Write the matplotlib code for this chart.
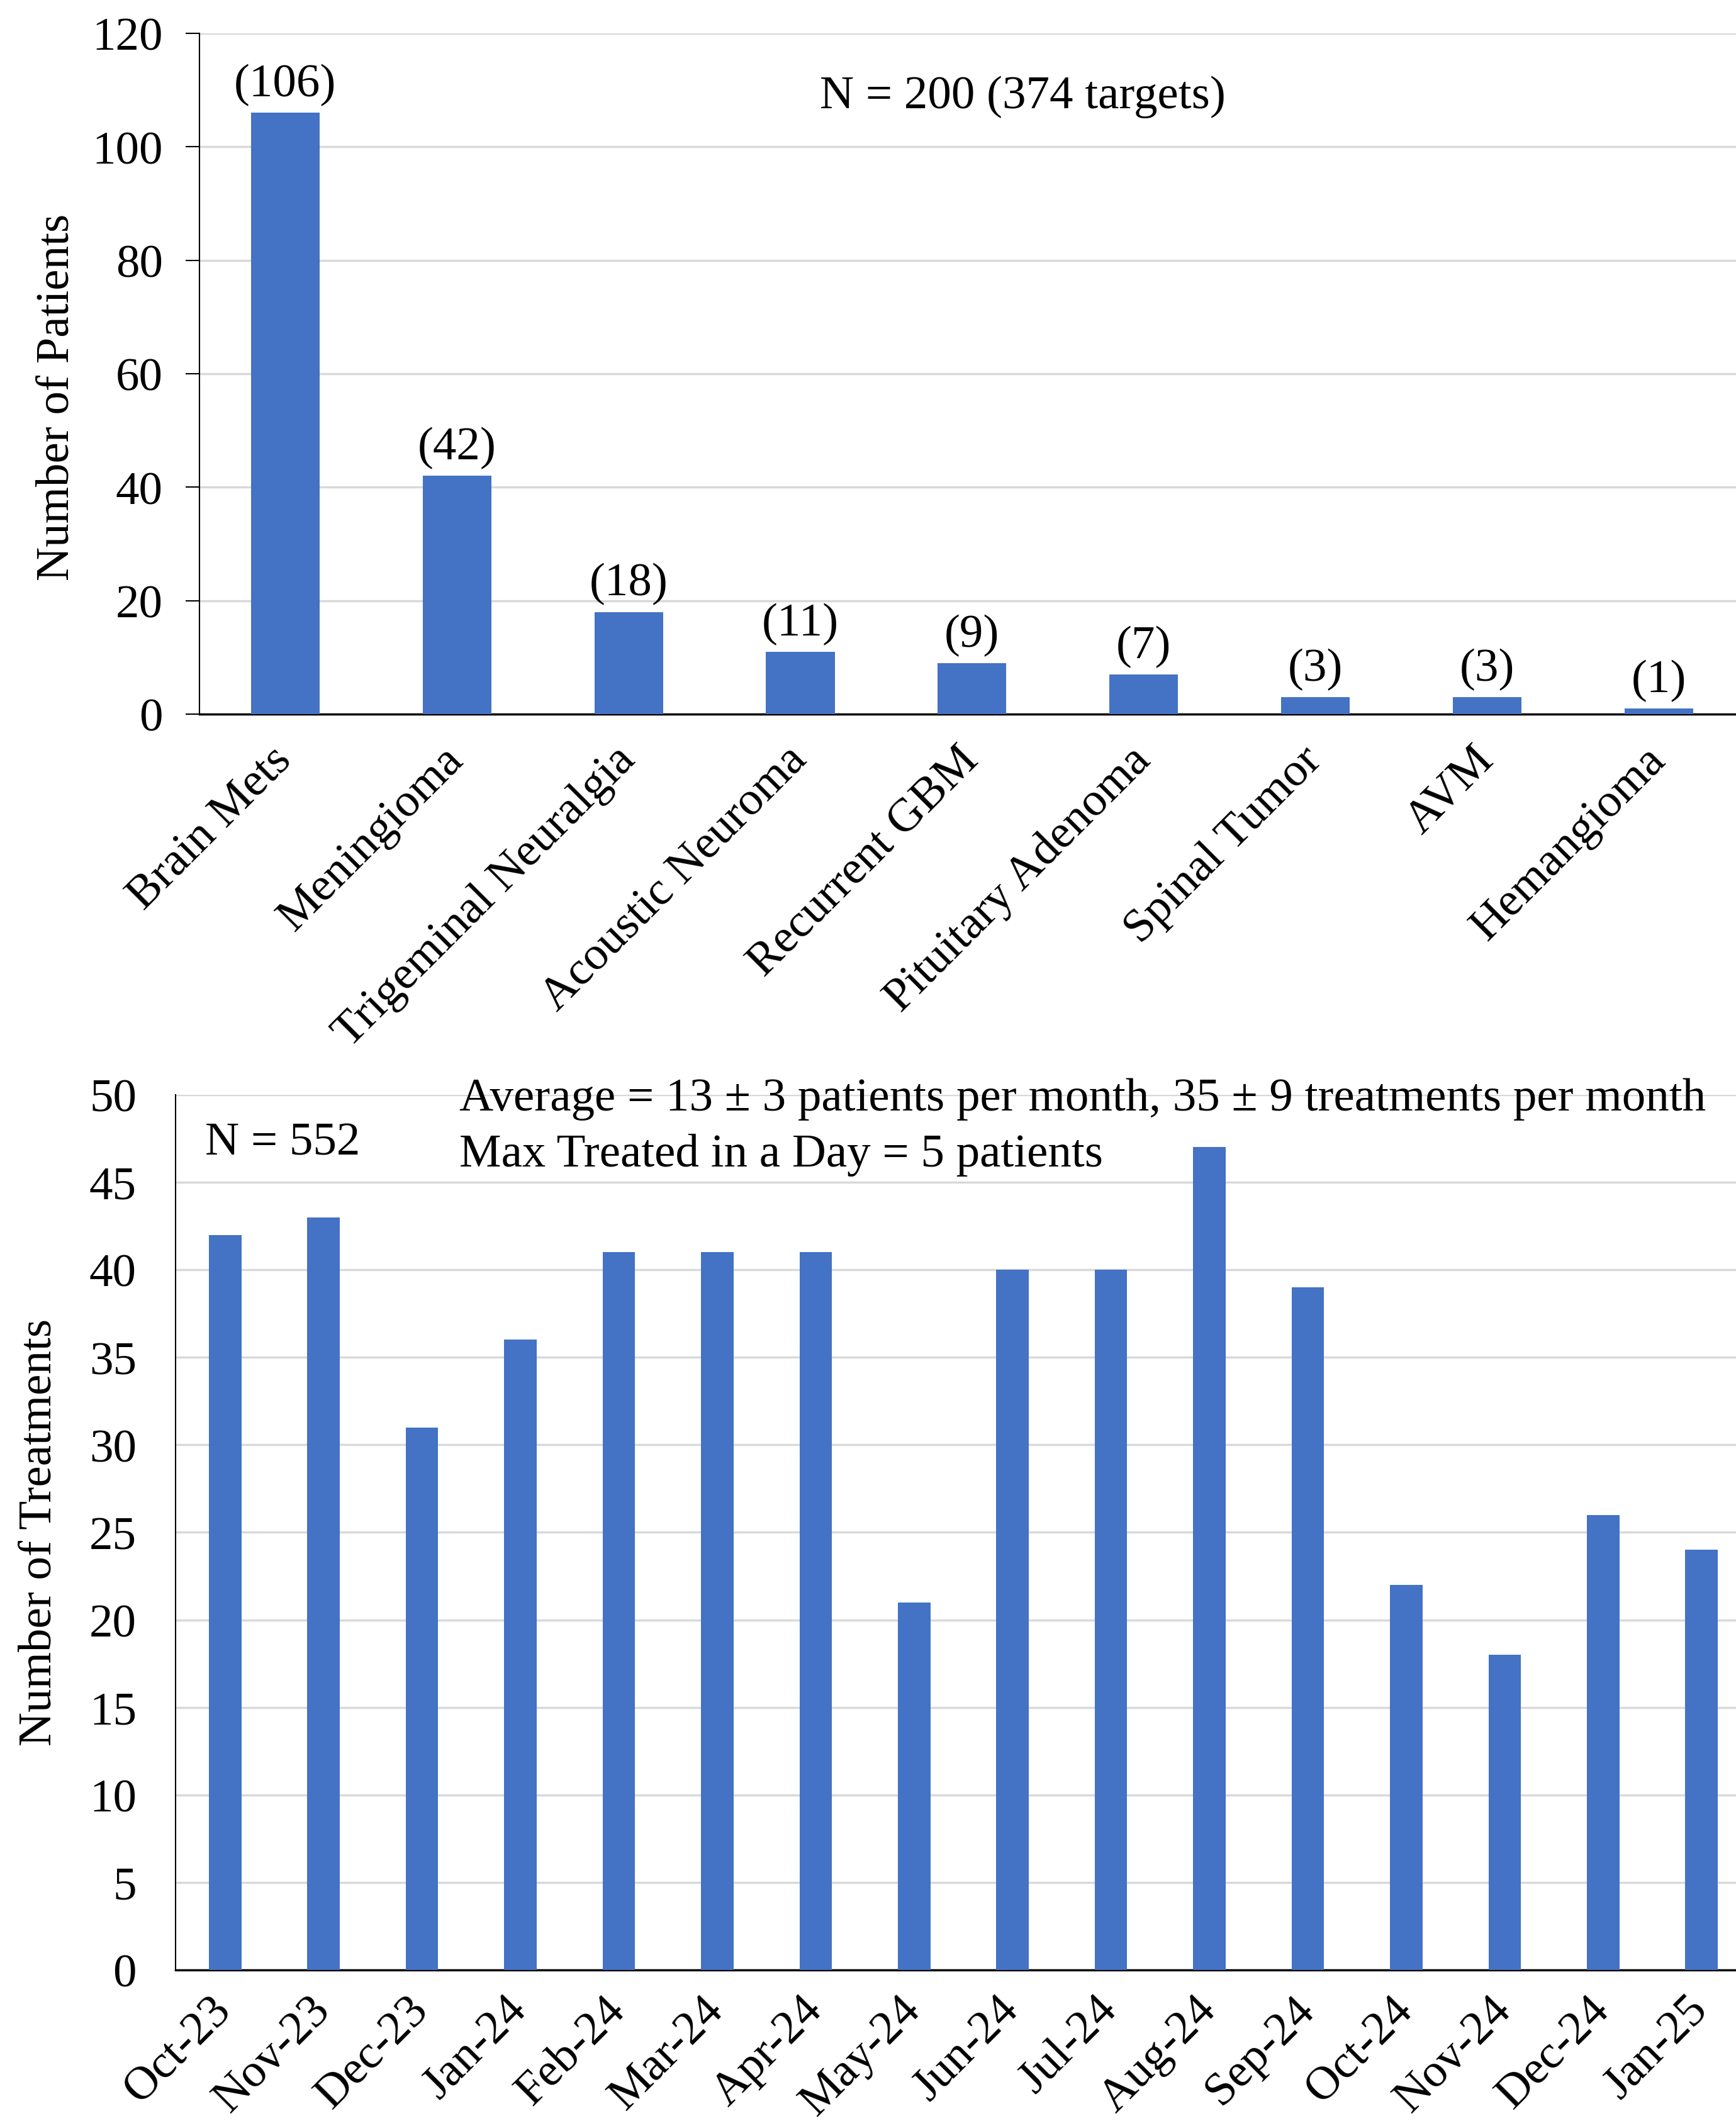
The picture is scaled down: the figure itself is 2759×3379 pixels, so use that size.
import matplotlib
matplotlib.use("Agg")
import matplotlib.pyplot as plt
import numpy as np

plt.rcParams['font.family'] = ['Liberation Serif', 'DejaVu Serif']

# top panel: patients per indication
indications = ['Brain Mets', 'Meningioma', 'Trigeminal Neuralgia', 'Acoustic Neuroma',
               'Recurrent GBM', 'Pituitary Adenoma', 'Spinal Tumor', 'AVM', 'Hemangioma']
patients = [106, 42, 18, 11, 9, 7, 3, 3, 1]

# bottom panel: treatments per month
months = ['Oct-23', 'Nov-23', 'Dec-23', 'Jan-24', 'Feb-24', 'Mar-24', 'Apr-24', 'May-24',
          'Jun-24', 'Jul-24', 'Aug-24', 'Sep-24', 'Oct-24', 'Nov-24', 'Dec-24', 'Jan-25']
treatments = [42, 43, 31, 36, 41, 41, 41, 21, 40, 40, 47, 39, 22, 18, 26, 24]

blue = '#4472C4'
grid = '#d9d9d9'
fs = 54

fig = plt.figure(figsize=(27.59, 33.80), dpi=100)

# ---- top chart
ax1 = fig.add_axes([0.1149, 0.6639, 0.8851, 0.3201])
x1 = np.arange(len(indications))
ax1.bar(x1, patients, width=0.4, color=blue, zorder=3)
for xi, v in zip(x1, patients):
    ax1.annotate('(%d)' % v, (xi, v), xytext=(0, 8), textcoords='offset points',
                 ha='center', va='bottom', fontsize=fs)
ax1.set_xlim(-0.5, 8.45)
ax1.set_ylim(0, 120)
ax1.set_yticks(np.arange(0, 121, 20))
ax1.yaxis.grid(True, color=grid, linewidth=2.5, zorder=0)
ax1.set_axisbelow(True)
for s in ['top', 'right']:
    ax1.spines[s].set_visible(False)
ax1.spines['left'].set_linewidth(1.5)
ax1.spines['bottom'].set_linewidth(2.5)
ax1.tick_params(axis='y', length=16, width=1.5, pad=26, labelsize=fs)
ax1.tick_params(axis='x', length=0, pad=45, labelsize=fs)
ax1.set_xticks(x1)
ax1.set_xticklabels(indications, rotation=45, ha='right', va='center',
                    rotation_mode='anchor')
ax1.set_ylabel('Number of Patients', fontsize=fs)
ax1.yaxis.set_label_coords(-0.079, 0.466)
ax1.text(0.5356, 0.891, 'N = 200 (374 targets)', transform=ax1.transAxes,
         ha='center', va='baseline', fontsize=fs)

# ---- bottom chart
ax2 = fig.add_axes([0.1013, 0.0734, 0.8987, 0.4115])
x2 = np.arange(len(months))
ax2.bar(x2, treatments, width=0.33, color=blue, zorder=3)
ax2.set_xlim(-0.5, 15.35)
ax2.set_ylim(0, 50)
ax2.set_yticks(np.arange(0, 51, 5))
ax2.yaxis.grid(True, color=grid, linewidth=2.5, zorder=0)
ax2.set_axisbelow(True)
for s in ['top', 'right']:
    ax2.spines[s].set_visible(False)
ax2.spines['left'].set_linewidth(1.5)
ax2.spines['bottom'].set_linewidth(2.5)
ax2.tick_params(axis='y', length=0, pad=45, labelsize=fs)
ax2.tick_params(axis='x', length=0, pad=38, labelsize=fs)
ax2.set_xticks(x2)
ax2.set_xticklabels(months, rotation=45, ha='right', va='center',
                    rotation_mode='anchor')
ax2.set_ylabel('Number of Treatments', fontsize=fs)
ax2.yaxis.set_label_coords(-0.0736, 0.501)
ax2.text(0.0188, 0.932, 'N = 552', transform=ax2.transAxes,
         ha='left', va='baseline', fontsize=fs)
ax2.text(0.1815, 0.9828, 'Average = 13 \u00b1 3 patients per month, 35 \u00b1 9 treatments per month',
         transform=ax2.transAxes, ha='left', va='baseline', fontsize=fs)
ax2.text(0.1815, 0.9188, 'Max Treated in a Day = 5 patients', transform=ax2.transAxes,
         ha='left', va='baseline', fontsize=fs)

fig.savefig('out.png', dpi=100, facecolor='white')
